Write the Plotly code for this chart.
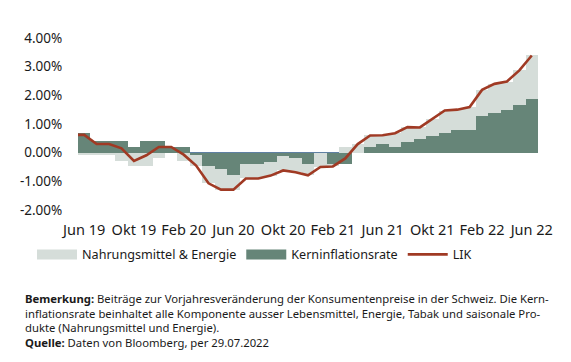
import plotly.graph_objects as go

months = ["Jun 19", "Jul 19", "Aug 19", "Sep 19", "Okt 19", "Nov 19", "Dez 19", "Jan 20",
          "Feb 20", "Mär 20", "Apr 20", "Mai 20", "Jun 20", "Jul 20", "Aug 20", "Sep 20",
          "Okt 20", "Nov 20", "Dez 20", "Jan 21", "Feb 21", "Mär 21", "Apr 21", "Mai 21",
          "Jun 21", "Jul 21", "Aug 21", "Sep 21", "Okt 21", "Nov 21", "Dez 21", "Jan 22",
          "Feb 22", "Mär 22", "Apr 22", "Mai 22", "Jun 22"]

kern = [0.68, 0.39, 0.39, 0.39, 0.20, 0.39, 0.39, 0.20,
        0.20, -0.09, -0.47, -0.58, -0.77, -0.39, -0.39, -0.32,
        -0.10, -0.19, -0.38, 0.00, -0.40, -0.38, 0.00, 0.20,
        0.29, 0.20, 0.37, 0.46, 0.58, 0.68, 0.78, 0.78,
        1.28, 1.39, 1.50, 1.67, 1.88]

nahrung = [-0.08, -0.09, -0.09, -0.29, -0.48, -0.48, -0.17, 0.00,
           -0.29, -0.38, -0.60, -0.71, -0.52, -0.50, -0.50, -0.48,
           -0.52, -0.48, -0.41, -0.50, -0.08, 0.20, 0.30, 0.40,
           0.32, 0.48, 0.52, 0.42, 0.60, 0.79, 0.72, 0.81,
           0.91, 1.01, 0.98, 1.20, 1.51]

# LIK line starts one month earlier (May 19); that point lies outside the visible range
lik_months = ["Mai 19"] + months
lik = [0.62, 0.62, 0.30, 0.30, 0.15, -0.29, -0.09, 0.20, 0.20,
       -0.07, -0.45, -1.07, -1.29, -1.29, -0.90, -0.90, -0.80,
       -0.62, -0.68, -0.79, -0.50, -0.48, -0.20, 0.30, 0.60,
       0.61, 0.68, 0.89, 0.88, 1.18, 1.47, 1.50, 1.59,
       2.19, 2.40, 2.48, 2.87, 3.39]

tick_months = months[::4]
y_ticks = [4, 3, 2, 1, 0, -1, -2]
y_ticktext = ["4.00%", "3.00%", "2.00%", "1.00%", "0.00%", "-1.00%", "-2.00%"]

C_LIGHT = "#d5ddd9"
C_DARK = "#668578"
C_LINE = "#a03a24"
FONT = "Noto Sans"
TXT = "#1a1a1a"

fig = go.Figure()
fig.add_trace(go.Bar(x=months, y=kern, marker=dict(color=C_DARK, line=dict(width=0)),
                     name="Kerninflationsrate", showlegend=False))
fig.add_trace(go.Bar(x=months, y=nahrung, marker=dict(color=C_LIGHT, line=dict(width=0)),
                     name="Nahrungsmittel & Energie", showlegend=False))
fig.add_trace(go.Scatter(x=lik_months, y=lik, mode="lines", line=dict(color=C_LINE, width=2.6),
                         name="LIK", showlegend=False))

# legend proxies
fig.add_trace(go.Scatter(x=[None], y=[None], mode="lines", line=dict(color=C_LIGHT, width=11),
                         name="Nahrungsmittel & Energie", legendrank=1))
fig.add_trace(go.Scatter(x=[None], y=[None], mode="lines", line=dict(color=C_DARK, width=11),
                         name="Kerninflationsrate", legendrank=2))
fig.add_trace(go.Scatter(x=[None], y=[None], mode="lines", line=dict(color=C_LINE, width=2.6),
                         name="LIK", legendrank=3))

fig.update_layout(
    width=563, height=354,
    margin=dict(l=70, r=33, t=30, b=151.7, autoexpand=False),
    paper_bgcolor="white", plot_bgcolor="white",
    barmode="relative", bargap=0,
    font=dict(family=FONT, size=13, color=TXT),
    xaxis=dict(categoryorder="array", categoryarray=lik_months,
               tickvals=tick_months, ticktext=tick_months, tickangle=0,
               showgrid=False, zeroline=False, showline=False,
               ticks="outside", ticklen=7, tickcolor="rgba(0,0,0,0)",
               tickfont=dict(size=14.5), range=[0.5, 37.5], automargin=False),
    yaxis=dict(range=[-2, 4], tickvals=y_ticks, ticktext=y_ticktext,
               showgrid=False, zeroline=True, zerolinecolor="#5f80a3", zerolinewidth=1,
               showline=False, ticks="outside", ticklen=12, tickcolor="rgba(0,0,0,0)",
               tickfont=dict(size=13.5), layer="above traces", automargin=False),
    legend=dict(orientation="h", x=-0.1, xanchor="left", y=-0.26, yanchor="middle",
                font=dict(size=12.6), itemwidth=40, bgcolor="rgba(0,0,0,0)"),
    annotations=[dict(
        xref="paper", yref="paper", x=-0.12, y=-0.46, xanchor="left", yanchor="top",
        align="left", showarrow=False, font=dict(family=FONT, size=11.3, color=TXT),
        text=("<b>Bemerkung:</b> Beiträge zur Vorjahresveränderung der Konsumentenpreise in der Schweiz. Die Kern-<br>"
              "inflationsrate beinhaltet alle Komponente ausser Lebensmittel, Energie, Tabak und saisonale Pro-<br>"
              "dukte (Nahrungsmittel und Energie).<br>"
              "<b>Quelle:</b> Daten von Bloomberg, per 29.07.2022"))],
)

fig.write_html("out.html")
